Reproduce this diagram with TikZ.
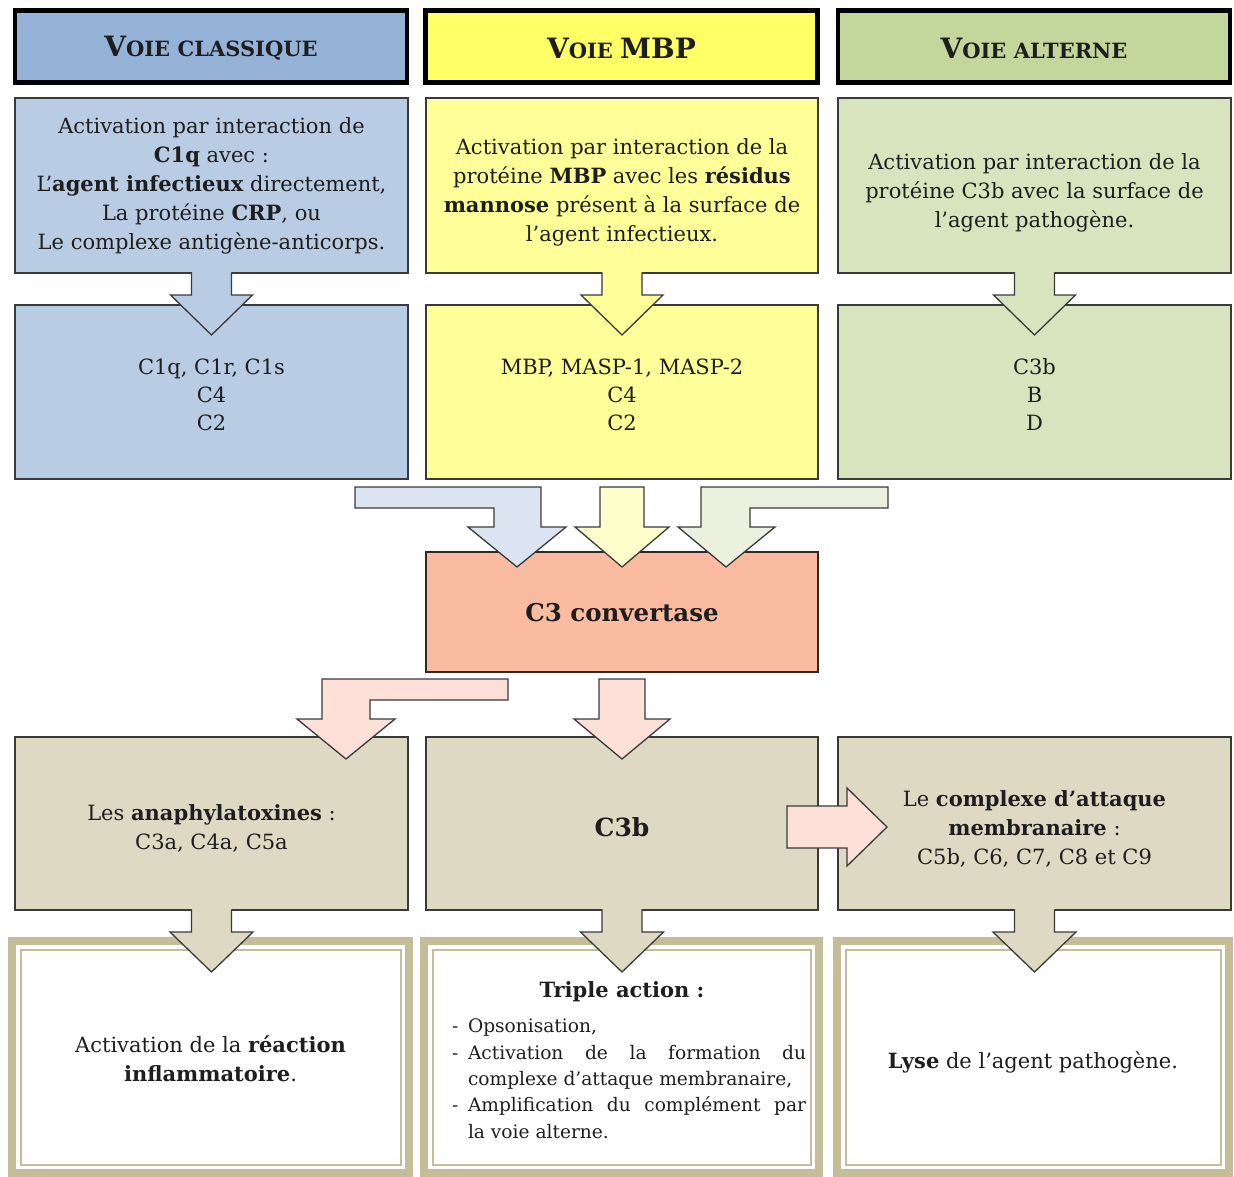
\documentclass[tikz,border=0pt]{standalone}
\usepackage{fontspec}
\setmainfont{DejaVu Serif}
\usetikzlibrary{calc}
\definecolor{hA}{HTML}{95B3D7}
\definecolor{hB}{HTML}{FFFF66}
\definecolor{hC}{HTML}{C3D69B}
\definecolor{aA}{HTML}{B8CCE4}
\definecolor{aB}{HTML}{FFFF99}
\definecolor{aC}{HTML}{D7E4BD}
\definecolor{lA}{HTML}{DBE5F1}
\definecolor{lB}{HTML}{FFFFCC}
\definecolor{lC}{HTML}{EBF1DE}
\definecolor{cv}{HTML}{FABBA0}
\definecolor{cvb}{HTML}{3A2420}
\definecolor{pk}{HTML}{FDE0D8}
\definecolor{tb}{HTML}{DDD9C3}
\definecolor{tan}{HTML}{C4BD97}
\definecolor{bdr}{HTML}{3A3A3A}
\definecolor{ink}{HTML}{1E1E1E}
\newcommand{\HdrSc}[2]{{\fontsize{28}{28}\selectfont #1}{\fontsize{21}{21}\selectfont #2}}
\newcommand{\tf}{\fontsize{21}{29}\selectfont}
\newcommand{\DownArr}[5]{% node, color, shaft half, head half, head-base offset
  \fill[#2] ($(#1.south)+(-#3,-2)$) -- ($(#1.south)+(-#3,#5)$) -- ($(#1.south)+(-#4,#5)$) -- ($(#1.south)+(0,#5+40)$) -- ($(#1.south)+(#4,#5)$) -- ($(#1.south)+(#3,#5)$) -- ($(#1.south)+(#3,-2)$) -- cycle;
  \draw[aline] ($(#1.south)+(-#3,-0.6)$) -- ($(#1.south)+(-#3,#5)$) -- ($(#1.south)+(-#4,#5)$) -- ($(#1.south)+(0,#5+40)$) -- ($(#1.south)+(#4,#5)$) -- ($(#1.south)+(#3,#5)$) -- ($(#1.south)+(#3,-0.6)$);}
\tikzset{
  every node/.style={outer sep=0pt},
  hdr/.style={draw=black, line width=4.5pt, minimum width=392pt, minimum height=72pt, inner sep=0pt, font=\bfseries, text=ink},
  bx/.style={draw=bdr, line width=1.3pt, inner sep=0pt},
  txt/.style={inner sep=0pt, align=center, font=\tf, text=ink},
  frm/.style={draw=tan, line width=8pt, fill=white, inner sep=0pt},
  aline/.style={draw=bdr, line width=1.3pt, line join=miter},
}
\begin{document}
\begin{tikzpicture}[x=1pt,y=-1pt]
\useasboundingbox[fill=white] (0,0) rectangle (1234,1176);
% headers
\node[hdr, fill=hA] (hA) at (211,46.5) {};
\node[hdr, fill=hB] (hB) at (621.5,46.5) {};
\node[hdr, fill=hC] (hC) at (1034,46.5) {};
\node[txt, font=\bfseries] (hAt) at ($(hA)+(0,2)$) {\HdrSc{V}{OIE CLASSIQUE}};
\node[txt, font=\bfseries] (hBt) at ($(hB)+(0,2)$) {\HdrSc{V}{OIE }{\fontsize{28}{28}\selectfont MBP}};
\node[txt, font=\bfseries] (hCt) at ($(hC)+(0,2)$) {\HdrSc{V}{OIE ALTERNE}};
% row 1
\node[bx, fill=aA, minimum width=393pt, minimum height=175pt] (a1) at (211.5,185.5) {};
\node[bx, fill=aB, minimum width=392pt, minimum height=175pt] (a2) at (622,185.5) {};
\node[bx, fill=aC, minimum width=393pt, minimum height=175pt] (a3) at (1034.5,185.5) {};
\node[txt] (a1t) at ($(a1)+(0,0)$)
  {Activation par interaction de\\\textbf{C1q} avec :\\L’\textbf{agent infectieux} directement,\\La protéine \textbf{CRP}, ou\\Le complexe antigène-anticorps.};
\node[txt] (a2t) at ($(a2)+(0,7)$)
  {Activation par interaction de la\\protéine \textbf{MBP} avec les \textbf{résidus}\\\textbf{mannose} présent à la surface de\\l’agent infectieux.};
\node[txt] (a3t) at ($(a3)+(0,7)$)
  {Activation par interaction de la\\protéine C3b avec la surface de\\l’agent pathogène.};
% row 2
\node[bx, fill=aA, minimum width=393pt, minimum height=174pt] (b1) at (211.5,392) {};
\node[bx, fill=aB, minimum width=392pt, minimum height=174pt] (b2) at (622,392) {};
\node[bx, fill=aC, minimum width=393pt, minimum height=174pt] (b3) at (1034.5,392) {};
\node[txt] (b1t) at ($(b1)+(0,3)$) {C1q, C1r, C1s\\[-1pt]C4\\[-1pt]C2};
\node[txt] (b2t) at ($(b2)+(0,3)$) {MBP, MASP-1, MASP-2\\[-1pt]C4\\[-1pt]C2};
\node[txt] (b3t) at ($(b3)+(0,3)$) {C3b\\[-1pt]B\\[-1pt]D};
% C3 convertase
\node[bx, draw=cvb, fill=cv, minimum width=392pt, minimum height=120pt] (c3) at (622,612) {};
\node[txt, font=\fontsize{24.5}{26}\selectfont\bfseries] (c3t) at ($(c3)+(0,1)$) {C3 convertase};
% row 3
\node[bx, fill=tb, minimum width=393pt, minimum height=173pt] (d1) at (211.5,823.5) {};
\node[bx, fill=tb, minimum width=392pt, minimum height=173pt] (d2) at (622,823.5) {};
\node[bx, fill=tb, minimum width=393pt, minimum height=173pt] (d3) at (1034.5,823.5) {};
\node[txt] (d1t) at ($(d1)+(0,4.5)$) {Les \textbf{anaphylatoxines} :\\C3a, C4a, C5a};
\node[txt, font=\fontsize{25}{29}\selectfont\bfseries] (d2t) at ($(d2)+(0,4)$) {C3b};
\node[txt] (d3t) at ($(d3)+(0,5)$) {Le \textbf{complexe d’attaque}\\\textbf{membranaire} :\\C5b, C6, C7, C8 et C9};
% bottom frames
\node[frm, minimum width=397pt, minimum height=232pt] (f1) at (210.5,1057) {};
\node[frm, minimum width=395pt, minimum height=232pt] (f2) at (621.5,1057) {};
\node[frm, minimum width=392pt, minimum height=232pt] (f3) at (1033,1057) {};
\foreach \f in {f1,f2,f3}
  \draw[tan, line width=2pt] ($(\f.north west)+(8.5,8.5)$) rectangle ($(\f.south east)+(-8.5,-8.5)$);
\node[txt] (f1t) at ($(f1)+(0,2)$) {Activation de la \textbf{réaction}\\\textbf{inflammatoire}.};
\node[txt] (f2t) at ($(f2)+(7.5,3)$) {\parbox{354pt}{\hyphenpenalty=10000
  {\centering\fontsize{21}{21}\selectfont\bfseries\hspace*{-14pt}Triple action :\par}\vspace{9pt}
  \fontsize{18.6}{26.3}\selectfont
  \hangindent=16pt\hangafter=1\noindent\makebox[16pt][l]{-}Opsonisation,\par
  \hangindent=16pt\hangafter=1\noindent\makebox[16pt][l]{-}Activation de la formation du\linebreak complexe d’attaque membranaire,\par
  \hangindent=16pt\hangafter=1\noindent\makebox[16pt][l]{-}Amplification du complément par\linebreak la voie alterne.\par}};
\node[txt] (f3t) at ($(f3)+(0,5)$) {\textbf{Lyse} de l’agent pathogène.};
% arrows row1 -> row2
\DownArr{a1}{aA}{20}{41}{22}
\DownArr{a2}{aB}{20}{41}{22}
\DownArr{a3}{aC}{20}{41}{22}
% arrows row2 -> C3
\draw[aline, fill=lA] ($(c3.north)+(-267,-65)$) -- ($(c3.north)+(-81,-65)$) -- ($(c3.north)+(-81,-25)$) -- ($(c3.north)+(-56,-25)$) -- ($(c3.north)+(-105,15)$) -- ($(c3.north)+(-154,-25)$) -- ($(c3.north)+(-128,-25)$) -- ($(c3.north)+(-128,-44)$) -- ($(c3.north)+(-267,-44)$) -- cycle;
\draw[aline, fill=lB] ($(c3.north)+(-22,-65)$) -- ($(c3.north)+(22,-65)$) -- ($(c3.north)+(22,-25)$) -- ($(c3.north)+(47,-25)$) -- ($(c3.north)+(0,15)$) -- ($(c3.north)+(-47,-25)$) -- ($(c3.north)+(-22,-25)$) -- cycle;
\draw[aline, fill=lC] ($(c3.north)+(266,-65)$) -- ($(c3.north)+(79,-65)$) -- ($(c3.north)+(79,-25)$) -- ($(c3.north)+(56,-25)$) -- ($(c3.north)+(104,15)$) -- ($(c3.north)+(153,-25)$) -- ($(c3.north)+(128,-25)$) -- ($(c3.north)+(128,-44)$) -- ($(c3.north)+(266,-44)$) -- cycle;
% arrows C3 -> row3
\draw[aline, fill=pk] ($(c3.south)+(-114,7)$) -- ($(c3.south)+(-114,28)$) -- ($(c3.south)+(-252,28)$) -- ($(c3.south)+(-252,47)$) -- ($(c3.south)+(-227,47)$) -- ($(c3.south)+(-276,87)$) -- ($(c3.south)+(-325,47)$) -- ($(c3.south)+(-300,47)$) -- ($(c3.south)+(-300,7)$) -- cycle;
\draw[aline, fill=pk] ($(c3.south)+(-23,7)$) -- ($(c3.south)+(23,7)$) -- ($(c3.south)+(23,47)$) -- ($(c3.south)+(48,47)$) -- ($(c3.south)+(0,87)$) -- ($(c3.south)+(-48,47)$) -- ($(c3.south)+(-23,47)$) -- cycle;
% C3b -> complexe
\draw[aline, fill=pk] ($(d2.east)+(-31,-17.5)$) -- ($(d2.east)+(29,-17.5)$) -- ($(d2.east)+(29,-35.5)$) -- ($(d2.east)+(69,3.5)$) -- ($(d2.east)+(29,42.5)$) -- ($(d2.east)+(29,24.5)$) -- ($(d2.east)+(-31,24.5)$) -- cycle;
% arrows row3 -> frames
\DownArr{d1}{tb}{20}{41.5}{22}
\DownArr{d2}{tb}{20}{41.5}{22}
\DownArr{d3}{tb}{20}{41.5}{22}
\end{tikzpicture}
\end{document}
